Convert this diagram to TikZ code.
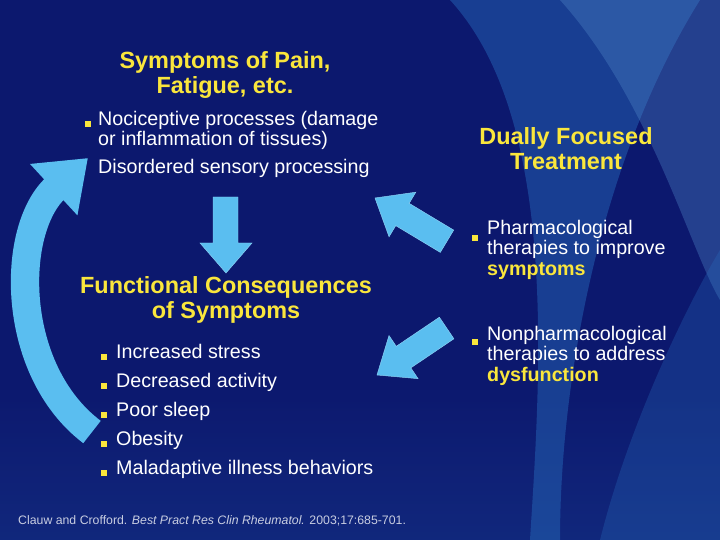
\documentclass[tikz,border=0pt]{standalone}
\usepackage{fontspec}
\setmainfont{Liberation Sans}
\usetikzlibrary{arrows.meta}
\definecolor{navy}{RGB}{12,24,110}
\definecolor{swoosh}{RGB}{40,110,190}
\definecolor{arrowblue}{RGB}{90,190,240}
\definecolor{titleyellow}{RGB}{250,230,60}
\definecolor{citegray}{RGB}{200,205,225}
\tikzset{
    heading/.style={text=titleyellow, font=\fontsize{20}{21.5}\selectfont\bfseries, align=center},
    body/.style={text=white, font=\fontsize{16.8}{17.5}\selectfont, align=left, anchor=north west, inner sep=0pt},
    bullet/.style={fill=titleyellow, minimum size=5pt, inner sep=0pt},
    fat arrow/.style={draw=arrowblue!70!white, fill=arrowblue, line width=0.4pt}
}
\begin{document}
\begin{tikzpicture}[x=0.03cm, y=-0.03cm]
    \useasboundingbox (0,0) rectangle (720,540);
    \fill[navy] (0,0) rectangle (720,540);
    \shade[top color=navy, bottom color=navy!70!swoosh, opacity=0.6] (0,380) rectangle (720,540);

    % background swooshes
    \fill[swoosh, opacity=0.45] (450,0) .. controls (560,120) and (540,380) .. (530,540)
        -- (560,540) .. controls (560,380) and (600,160) .. (700,0) -- cycle;
    \fill[swoosh!80!white, opacity=0.35] (560,0) .. controls (650,100) and (690,250) .. (720,300)
        -- (720,0) -- cycle;
    \fill[swoosh, opacity=0.3] (600,540) .. controls (630,420) and (690,300) .. (720,250)
        -- (720,540) -- cycle;

    % loop back arrow
    \draw[arrowblue, line width=0.85cm, -{Triangle[length=1.4cm, width=2cm]}]
        (92,432) .. controls (10,370) and (10,230) .. (88,158);

    % down arrow
    \fill[fat arrow] (213,197) -- (238,197) -- (238,243) -- (252,243) -- (226,273)
        -- (200,243) -- (213,243) -- cycle;

    % treatment arrows
    \begin{scope}[shift={(375,198)}, rotate=-31]
        \fill[fat arrow] (0,0) -- (32,-26) -- (32,-13) -- (84,-13) -- (84,13) -- (32,13) -- (32,26) -- cycle;
    \end{scope}
    \begin{scope}[shift={(377,375)}, rotate=34]
        \fill[fat arrow] (0,0) -- (32,-26) -- (32,-13) -- (84,-13) -- (84,13) -- (32,13) -- (32,26) -- cycle;
    \end{scope}

    % symptoms block
    \node[heading] (symptoms) at (225,75) {Symptoms of Pain,\\Fatigue, etc.};
    \node[bullet] (b1) at (88,124) {};
    \node[body] (nocic) at (98,111) {Nociceptive processes (damage\\or inflammation of tissues)};
    \node[body] (sensory) at (98,159) {Disordered sensory processing};

    % consequences block
    \node[heading] (conseq) at (226,300) {Functional Consequences\\of Symptoms};
    \foreach \txt [count=\i] in {Increased stress, Decreased activity, Poor sleep,
        Obesity, Maladaptive illness behaviors} {
        \node[bullet] (cb\i) at (104,{357+29*(\i-1)}) {};
        \node[body] (ct\i) at (116,{344+29*(\i-1)}) {\txt};
    }

    % treatment block
    \node[heading] (treat) at (566,149) {Dually Focused\\Treatment};
    \node[bullet] (tb1) at (475,238) {};
    \node[body] (pharm) at (487,220) {Pharmacological\\therapies to improve\\
        \textcolor{titleyellow}{\bfseries symptoms}};
    \node[bullet] (tb2) at (475,342) {};
    \node[body] (nonpharm) at (487,326) {Nonpharmacological\\therapies to address\\
        \textcolor{titleyellow}{\bfseries dysfunction}};

    % citation
    \node[anchor=west, text=citegray, font=\fontsize{10.5}{12}\selectfont, inner sep=0pt] (cite) at (18,521)
        {Clauw and Crofford. \textit{Best Pract Res Clin Rheumatol.} 2003;17:685-701.};
\end{tikzpicture}
\end{document}
